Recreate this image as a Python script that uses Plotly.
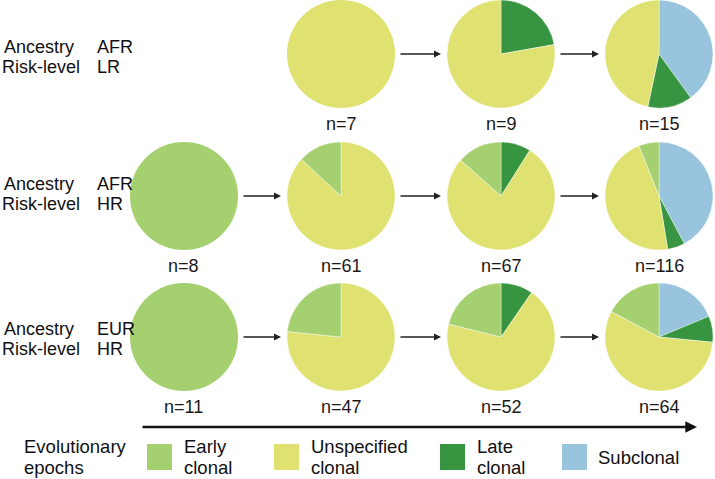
import plotly.graph_objects as go

W, H = 715, 479

# ---- data ----
epochs = ["Early clonal", "Unspecified clonal", "Late clonal", "Subclonal"]
legend_labels = ["Early<br>clonal", "Unspecified<br>clonal", "Late<br>clonal", "Subclonal"]
colors = {"Early clonal": "#a5d070", "Unspecified clonal": "#dfe270",
          "Late clonal": "#379541", "Subclonal": "#98c4de"}

groups = ["AFR LR", "AFR HR", "EUR HR"]
ancestry = ["AFR", "AFR", "EUR"]
risk = ["LR", "HR", "HR"]

# counts per stage (4 stages, None = no pie)
early_clonal = {"AFR LR": [None, 0, 0, 0], "AFR HR": [8, 8, 9, 7], "EUR HR": [11, 11, 11, 11]}
unspecified_clonal = {"AFR LR": [None, 7, 7, 7], "AFR HR": [0, 53, 52, 54], "EUR HR": [0, 36, 36, 36]}
late_clonal = {"AFR LR": [None, 0, 2, 2], "AFR HR": [0, 0, 6, 6], "EUR HR": [0, 0, 5, 5]}
subclonal = {"AFR LR": [None, 0, 0, 6], "AFR HR": [0, 0, 0, 49], "EUR HR": [0, 0, 0, 12]}

# ---- layout geometry (pixels) ----
col_cx = [184, 341, 501, 659]
row_cy = [54, 196, 337]
label_y = [(47, 67), (184, 204), (329, 349)]
R = 54

def px(x):
    return x / W

def py(y):
    return 1 - y / H

fig = go.Figure()
annotations = []
shapes = []

# clockwise order from 12 o'clock
order = ["Subclonal", "Late clonal", "Unspecified clonal", "Early clonal"]
series = {"Early clonal": early_clonal, "Unspecified clonal": unspecified_clonal,
          "Late clonal": late_clonal, "Subclonal": subclonal}

for ri, g in enumerate(groups):
    cy = row_cy[ri]
    for ci in range(4):
        if early_clonal[g][ci] is None:
            continue
        cx = col_cx[ci]
        vals = [series[e][g][ci] for e in order]
        labs = [e for e, v in zip(order, vals) if v > 0]
        vs = [v for v in vals if v > 0]
        fig.add_trace(go.Pie(
            labels=labs, values=vs, sort=False, direction="clockwise", rotation=0,
            marker=dict(colors=[colors[l] for l in labs],
                        line=dict(color="rgba(255,255,255,0.6)", width=0.7 if len(vs) > 1 else 0)),
            textinfo="none", hoverinfo="label+value", showlegend=False,
            domain=dict(x=[px(cx - R), px(cx + R)], y=[py(cy + R), py(cy - R)]),
        ))
        n = sum(vs)
        annotations.append(dict(x=px(cx), y=py(cy + 70), xref="paper", yref="paper",
                                text=f"n={n}", showarrow=False, xanchor="center", yanchor="middle",
                                font=dict(size=18, color="#1a1a1a")))
        # arrow to next pie
        if ci < 3:
            x0 = cx + R + 4
            x1 = col_cx[ci + 1] - R - 6
            annotations.append(dict(x=px(x1), y=py(cy), xref="paper", yref="paper",
                                    ax=-(x1 - x0), ay=0,
                                    text="", showarrow=True, arrowhead=2, arrowsize=1.0,
                                    arrowwidth=1.4, arrowcolor="#222"))
    # left labels
    ya, yr = label_y[ri]
    for txt, xx, yy in [("Ancestry", 2, ya), ("Risk-level", 0, yr),
                        (ancestry[ri], 95, ya), (risk[ri], 95, yr)]:
        annotations.append(dict(x=px(xx), y=py(yy), xref="paper", yref="paper",
                                text=txt, showarrow=False, xanchor="left", yanchor="middle",
                                font=dict(size=18, color="#111")))

# long time arrow
annotations.append(dict(x=px(697), y=py(427), xref="paper", yref="paper",
                        ax=-(697 - 141), ay=0,
                        text="", showarrow=True, arrowhead=2, arrowsize=0.9,
                        arrowwidth=2.6, arrowcolor="#111"))

# legend
annotations.append(dict(x=px(22), y=py(446), xref="paper", yref="paper", text="Evolutionary",
                        showarrow=False, xanchor="left", yanchor="middle", font=dict(size=18.5, color="#111")))
annotations.append(dict(x=px(22), y=py(467), xref="paper", yref="paper", text="epochs",
                        showarrow=False, xanchor="left", yanchor="middle", font=dict(size=18.5, color="#111")))
box_x = [147, 274, 440, 562]
for e, lab, bx in zip(epochs, legend_labels, box_x):
    shapes.append(dict(type="rect", xref="paper", yref="paper",
                       x0=px(bx), x1=px(bx + 25), y0=py(470), y1=py(444),
                       fillcolor=colors[e], line=dict(width=0)))
    parts = lab.split("<br>")
    if len(parts) == 2:
        for k, p in enumerate(parts):
            annotations.append(dict(x=px(bx + 35), y=py(446 + 21 * k), xref="paper", yref="paper",
                                    text=p, showarrow=False, xanchor="left", yanchor="middle",
                                    font=dict(size=18.5, color="#111")))
    else:
        annotations.append(dict(x=px(bx + 34), y=py(457), xref="paper", yref="paper",
                                text=parts[0], showarrow=False, xanchor="left", yanchor="middle",
                                font=dict(size=18.5, color="#111")))

fig.update_layout(width=W, height=H, margin=dict(l=0, r=0, t=0, b=0),
                  paper_bgcolor="white", plot_bgcolor="white",
                  font=dict(family="Liberation Sans, Arial, Helvetica, sans-serif"),
                  annotations=annotations, shapes=shapes)

fig.write_html("out.html")
